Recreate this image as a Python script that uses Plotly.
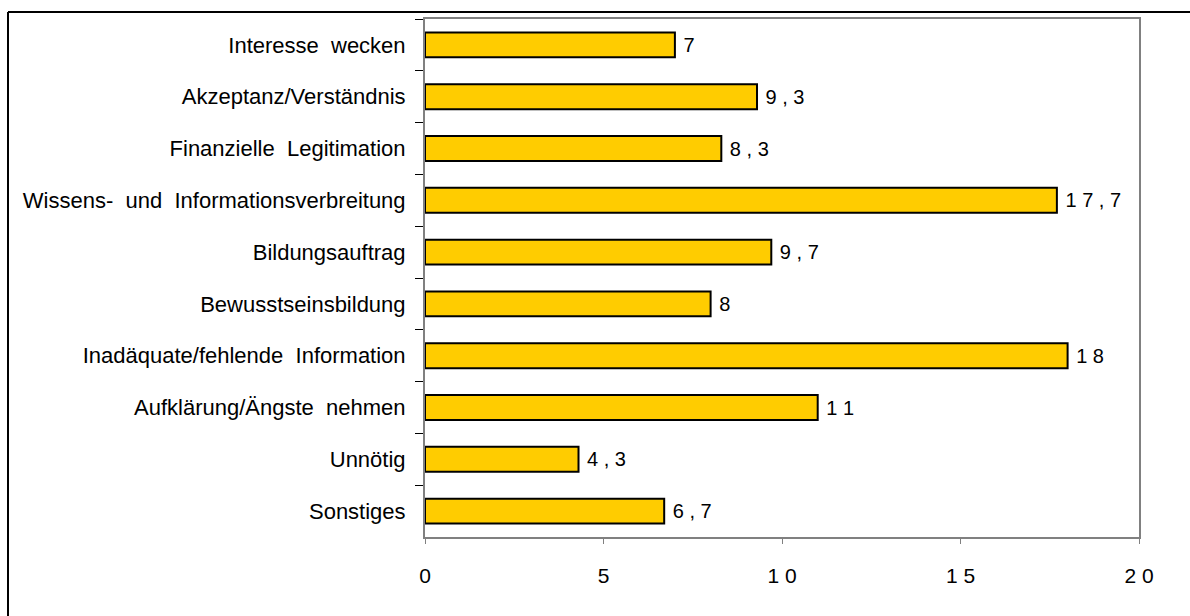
import plotly.graph_objects as go

categories = [
    "Interesse  wecken",
    "Akzeptanz/Verständnis",
    "Finanzielle  Legitimation",
    "Wissens-  und  Informationsverbreitung",
    "Bildungsauftrag",
    "Bewusstseinsbildung",
    "Inadäquate/fehlende  Information",
    "Aufklärung/Ängste  nehmen",
    "Unnötig",
    "Sonstiges",
]
values = [7, 9.3, 8.3, 17.7, 9.7, 8, 18, 11, 4.3, 6.7]
x_ticks = [0, 5, 10, 15, 20]


def spaced(v):
    s = f"{v:g}".replace(".", ",")
    return " ".join(s)


bar_labels = [" " + spaced(v) for v in values]
x_ticktext = [spaced(v) for v in x_ticks]

FONT = "Liberation Sans, Arial, sans-serif"

fig = go.Figure(
    go.Bar(
        x=values,
        y=categories,
        orientation="h",
        width=0.48,
        marker=dict(color="#FFCC00", line=dict(color="#000000", width=2)),
        text=bar_labels,
        textposition="outside",
        textfont=dict(family=FONT, size=20, color="#000000"),
        cliponaxis=False,
        hoverinfo="skip",
    )
)

W, H = 1190, 616
L, R, T, B = 425, 51, 19, 79
pw, ph = W - L - R, H - T - B

fig.update_layout(
    width=W,
    height=H,
    margin=dict(l=L, r=R, t=T, b=B, pad=0),
    paper_bgcolor="white",
    plot_bgcolor="white",
    showlegend=False,
    font=dict(family=FONT, size=20, color="#000000"),
    xaxis=dict(
        range=[0, 20],
        tickvals=x_ticks,
        ticktext=x_ticktext,
        showgrid=False,
        zeroline=False,
        showline=True,
        linecolor="#808080",
        linewidth=2,
        mirror=True,
        ticks="outside",
        ticklen=5,
        tickwidth=1,
        tickcolor="#808080",
        ticklabelstandoff=14,
        tickfont=dict(family=FONT, size=21, color="#000000"),
    ),
    yaxis=dict(
        autorange="reversed",
        showgrid=False,
        zeroline=False,
        showline=True,
        linecolor="#808080",
        linewidth=2,
        mirror=True,
        ticks="outside",
        tickson="boundaries",
        ticklen=8,
        tickwidth=1,
        tickcolor="#000000",
        ticklabelstandoff=13,
        tickfont=dict(family=FONT, size=22, color="#000000"),
    ),
)

# outer frame (top and left edges visible in the picture)
x_left = (8 - L) / pw
y_top = 1 + (T - 12) / ph
fig.add_shape(type="line", xref="paper", yref="paper",
              x0=x_left, x1=(W + 20 - L) / pw, y0=y_top, y1=y_top,
              line=dict(color="#000000", width=2))
fig.add_shape(type="line", xref="paper", yref="paper",
              x0=x_left, x1=x_left, y0=y_top, y1=-(B + 20) / ph,
              line=dict(color="#000000", width=2))

fig.write_html(
    "out.html",
    config={"displayModeBar": False},
    post_script="document.body.style.margin='0';",
)
